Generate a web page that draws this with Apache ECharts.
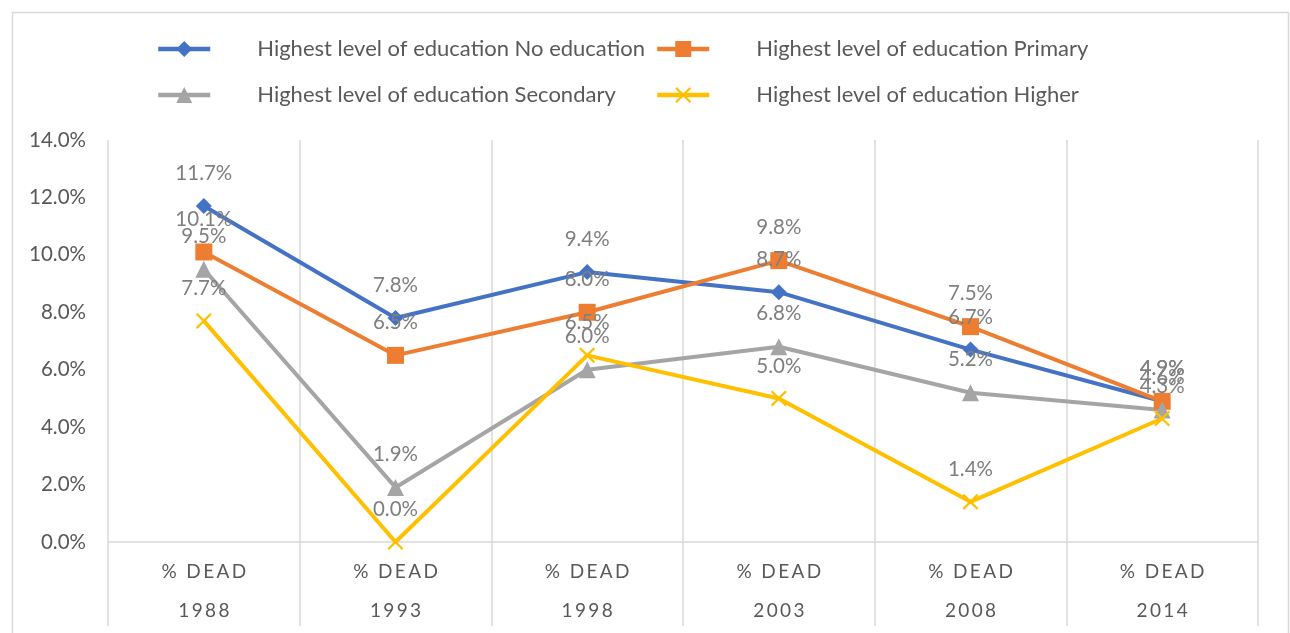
<!DOCTYPE html>
<html>
<head>
<meta charset="utf-8">
<script src="https://cdn.jsdelivr.net/npm/echarts@6/dist/echarts.min.js"></script>
<style>
  html, body { margin: 0; padding: 0; background: #ffffff; }
  #chart { width: 1290px; height: 633px; }
</style>
</head>
<body>
<div id="chart"></div>
<script>
// Survey years and measure name (two-level category axis)
const years = ['1988', '1993', '1998', '2003', '2008', '2014'];
const measure = '% DEAD';

// Share dead (%) by highest level of education
const noEducation = [11.7, 7.8, 9.4, 8.7, 6.7, 4.9];
const primary     = [10.1, 6.5, 8.0, 9.8, 7.5, 4.9];
const secondary   = [9.5, 1.9, 6.0, 6.8, 5.2, 4.6];
const higher      = [7.7, 0.0, 6.5, 5.0, 1.4, 4.3];

// Value axis ticks
const yMin = 0, yMax = 14, yStep = 2;

const seriesNames = [
  'Highest level of education No education',
  'Highest level of education Primary',
  'Highest level of education Secondary',
  'Highest level of education Higher'
];

const FONT = 'Lato, "Liberation Sans", sans-serif';
const GRID = '#d9d9d9';
const spaced = s => s.split('').join('\u2009');
const xSymbol = 'path://M0,1L1,0L5,4L9,0L10,1L6,5L10,9L9,10L5,6L1,10L0,9L4,5Z';

function lineSeries(name, data, color, symbol, size) {
  return {
    name: name,
    type: 'line',
    data: data,
    symbol: symbol,
    symbolSize: size,
    showAllSymbol: true,
    lineStyle: { color: color, width: 4 },
    itemStyle: { color: color },
    label: {
      show: true,
      position: 'top',
      distance: 14,
      color: '#7f7f7f',
      fontFamily: FONT,
      fontSize: 20.5,
      formatter: p => p.value.toFixed(1) + '%'
    },
    emphasis: { disabled: true },
    animation: false
  };
}

function legendAt(name, left, top) {
  return {
    data: [name],
    left: left,
    top: top,
    padding: 0,
    itemWidth: 52,
    itemHeight: 20,
    lineStyle: { width: 4.5 },
    textStyle: {
      color: '#595959',
      fontFamily: FONT,
      fontSize: 22,
      padding: [0, 0, 0, 42]
    },
    selectedMode: false
  };
}

const chart = echarts.init(document.getElementById('chart'), null, { renderer: 'canvas' });

chart.setOption({
  backgroundColor: '#ffffff',
  animation: false,
  legend: [
    legendAt(seriesNames[0], 156, 38),
    legendAt(seriesNames[1], 655, 38),
    legendAt(seriesNames[2], 156, 84),
    legendAt(seriesNames[3], 655, 84)
  ],
  grid: { left: 108, right: 32, top: 140, bottom: 91, containLabel: false, outerBoundsMode: 'none' },
  xAxis: {
    type: 'category',
    data: years,
    boundaryGap: true,
    axisLine: { show: true, lineStyle: { color: GRID, width: 1.5 } },
    axisTick: { show: true, length: 84, lineStyle: { color: GRID, width: 1.5 } },
    splitLine: { show: true, lineStyle: { color: GRID, width: 1.5 } },
    axisLabel: {
      margin: 10,
      color: '#595959',
      fontFamily: FONT,
      fontSize: 19,
      lineHeight: 39,
      formatter: v => spaced(measure) + '\n' + spaced(v)
    }
  },
  yAxis: {
    type: 'value',
    min: yMin,
    max: yMax,
    interval: yStep,
    axisLine: { show: false },
    axisTick: { show: false },
    splitLine: { show: false },
    axisLabel: {
      margin: 22,
      color: '#595959',
      fontFamily: FONT,
      fontSize: 20.5,
      formatter: v => v.toFixed(1) + '%'
    }
  },
  series: [
    lineSeries(seriesNames[0], noEducation, '#4472C4', 'diamond', 16),
    lineSeries(seriesNames[1], primary, '#ED7D31', 'rect', 17),
    lineSeries(seriesNames[2], secondary, '#A5A5A5', 'triangle', 17),
    lineSeries(seriesNames[3], higher, '#FFC000', xSymbol, 16)
  ],
  graphic: [{
    type: 'rect',
    left: 10, top: 10,
    shape: { x: 0, y: 0, width: 1276, height: 640 },
    style: { fill: 'none', stroke: GRID, lineWidth: 1.5 },
    silent: true,
    z: -1
  }]
});
</script>
</body>
</html>
